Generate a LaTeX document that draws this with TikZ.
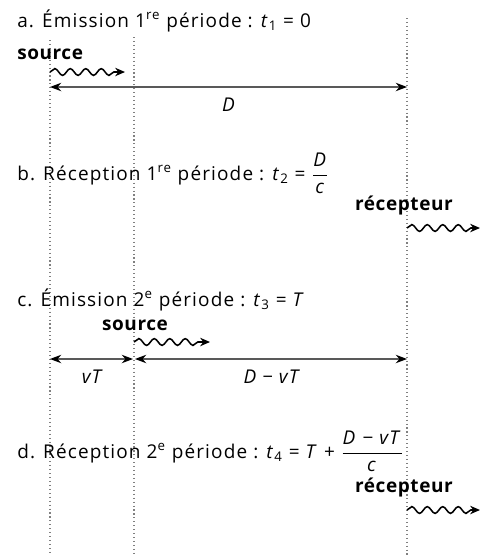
\documentclass[tikz,border=0pt]{standalone}
\usepackage{amsmath}
\usepackage{fontspec}
\setmainfont{Open Sans}[LetterSpace=6]
\newfontfamily\grasfont{Open Sans}[LetterSpace=3]
\usetikzlibrary{arrows.meta,decorations.pathmorphing,positioning}

\tikzset{
  repere/.style={gray, dotted, line width=0.8pt},
  onde/.style={line width=1.1pt, decorate,
    decoration={snake, amplitude=2.4pt, segment length=11pt, post length=6pt},
    -{Stealth[length=7pt,width=6pt]}},
  cote/.style={gray!70!black, line width=0.9pt,
    {Stealth[length=8pt,width=6pt,black]}-{Stealth[length=8pt,width=6pt,black]}},
  titre/.style={anchor=base west, inner sep=0pt, text=black, font=\fontsize{13.5}{16}\selectfont},
  appareil/.style={anchor=base, inner sep=0pt, font=\fontsize{13.5}{16}\selectfont\grasfont\bfseries},
  mesure/.style={inner sep=1pt, text=black, font=\fontsize{13.5}{16}\selectfont\itshape},
}
\newcommand{\tps}[1]{\textit{t}\textsubscript{#1}}

\begin{document}
\begin{tikzpicture}[x=0.025cm,y=-0.025cm]
  \useasboundingbox (0,0) rectangle (484,555);
  % lignes de repere
  \coordinate (gauche) at (50,40);   \coordinate (gaucheBas) at (50,555);
  \coordinate (milieu) at (134,37);  \coordinate (milieuBas) at (134,555);
  \coordinate (droite) at (407,18);  \coordinate (droiteBas) at (407,555);
  \draw[repere] (gauche) -- (gaucheBas);
  \draw[repere] (milieu) -- (milieuBas);
  \draw[repere] (droite) -- (droiteBas);

  % a. emission 1re periode
  \node[titre] (titreA) at (17,27) {a. Émission 1\textsuperscript{re} période : \tps{1} = 0};
  \node[appareil, anchor=base west] (sourceA) at (17,59) {source};
  \coordinate (ondeA1) at (50,72);  \coordinate (ondeA2) at (125,72);
  \draw[onde] (ondeA1) -- (ondeA2);
  \coordinate (coteA1) at (50,87);  \coordinate (coteA2) at (407,87);
  \draw[cote] (coteA1) -- node[mesure, below=6pt] (D) {D} (coteA2);

  % b. reception 1re periode
  \node[titre] (titreB) at (17,180) {b. Réception 1\textsuperscript{re} période : \tps{2} = $\dfrac{\text{\textit{D}}}{\text{\textit{c}}}$};
  \node[appareil, anchor=base east] (recepteurB) at (453,210) {récepteur};
  \coordinate (ondeB1) at (407,228);  \coordinate (ondeB2) at (480,228);
  \draw[onde] (ondeB1) -- (ondeB2);

  % c. emission 2e periode
  \node[titre] (titreC) at (17,306) {c. Émission 2\textsuperscript{e} période : \tps{3} = \textit{T}};
  \node[appareil] (sourceC) at (135,330) {source};
  \coordinate (ondeC1) at (134,342);  \coordinate (ondeC2) at (210,342);
  \draw[onde] (ondeC1) -- (ondeC2);
  \coordinate (coteC1) at (50,359);   \coordinate (coteC2) at (133,359);
  \coordinate (coteC3) at (135,359);  \coordinate (coteC4) at (407,359);
  \draw[cote] (coteC1) -- node[mesure, below=6pt] (vT) {vT} (coteC2);
  \draw[cote] (coteC3) -- node[mesure, below=6pt] (DvT) {D − vT} (coteC4);

  % d. reception 2e periode
  \node[titre] (titreD) at (17,458) {d. Réception 2\textsuperscript{e} période : \tps{4} = \textit{T} + $\dfrac{\text{\textit{D} − \textit{vT}}}{\text{\textit{c}}}$};
  \node[appareil, anchor=base east] (recepteurD) at (453,492) {récepteur};
  \coordinate (ondeD1) at (407,510);  \coordinate (ondeD2) at (480,510);
  \draw[onde] (ondeD1) -- (ondeD2);
\end{tikzpicture}
\end{document}
